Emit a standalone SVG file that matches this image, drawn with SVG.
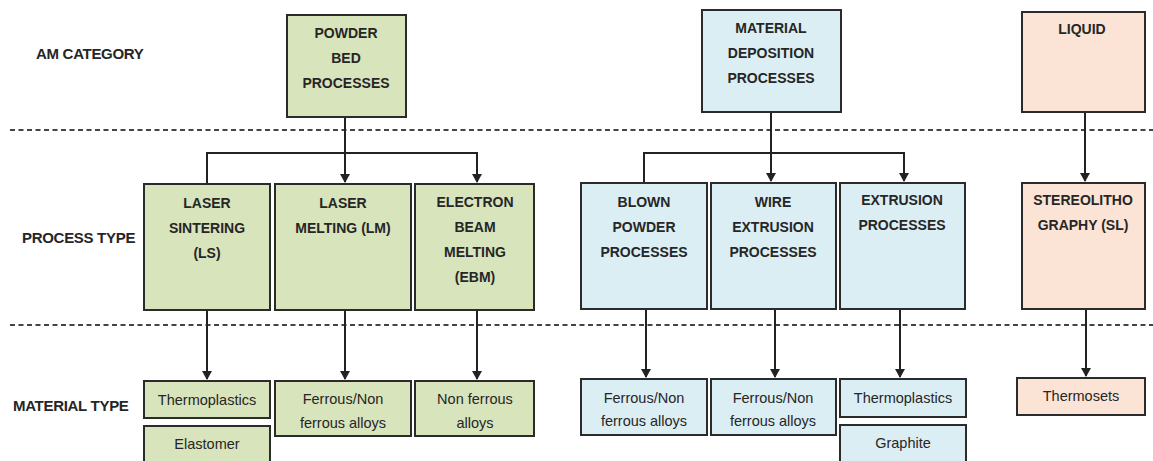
<svg xmlns="http://www.w3.org/2000/svg" width="1153" height="461" viewBox="0 0 1153 461">
<defs>
<marker id="arr" markerWidth="10" markerHeight="10" refX="8" refY="5" orient="auto" markerUnits="userSpaceOnUse">
<path d="M0,0 L9,5 L0,10 z" fill="#222"/>
</marker>
<style>
.g{fill:#d8e4bc;stroke:#2b2b2b;stroke-width:2}
.b{fill:#dbeef3;stroke:#2b2b2b;stroke-width:2}
.p{fill:#fbe4d5;stroke:#2b2b2b;stroke-width:2}
.t{font-family:"Liberation Sans",Arial,sans-serif;font-size:14px;font-weight:bold;fill:#262626;text-anchor:middle}
.m{font-family:"Liberation Sans",Arial,sans-serif;font-size:14.5px;fill:#262626;text-anchor:middle}
.l{font-family:"Liberation Sans",Arial,sans-serif;font-size:15px;font-weight:bold;fill:#262626;letter-spacing:-0.3px}
.d{stroke:#444;stroke-width:2.2;stroke-dasharray:5,3.5;fill:none}
.c{stroke:#222;stroke-width:2;fill:none}
</style>
</defs>
<rect width="1153" height="461" fill="#ffffff"/>

<g id="separators">
<line class="d" x1="10" y1="130" x2="1153" y2="130"/>
<line class="d" x1="10" y1="325" x2="1153" y2="325"/>
</g>

<g id="row-labels">
<text class="l" x="36" y="59">AM CATEGORY</text>
<text class="l" x="22" y="243">PROCESS TYPE</text>
<text class="l" x="13" y="411">MATERIAL TYPE</text>
</g>

<g id="connectors">
<path class="c" d="M345,117 V182" marker-end="url(#arr)"/>
<path class="c" d="M207,184 V153 H477 V182" marker-end="url(#arr)"/>
<path class="c" d="M771,112 V181" marker-end="url(#arr)"/>
<path class="c" d="M644,183 V153 H904 V181" marker-end="url(#arr)"/>
<path class="c" d="M1085,112 V181" marker-end="url(#arr)"/>
<path class="c" d="M207,310 V379" marker-end="url(#arr)"/>
<path class="c" d="M345,310 V379" marker-end="url(#arr)"/>
<path class="c" d="M477,310 V379" marker-end="url(#arr)"/>
<path class="c" d="M646,309 V377" marker-end="url(#arr)"/>
<path class="c" d="M775,309 V377" marker-end="url(#arr)"/>
<path class="c" d="M900,309 V377" marker-end="url(#arr)"/>
<path class="c" d="M1086,309 V376" marker-end="url(#arr)"/>
</g>

<g id="powder-bed">
<rect class="g" x="287" y="15" width="119" height="102"/>
<text class="t" x="346" y="38">POWDER</text>
<text class="t" x="346" y="63">BED</text>
<text class="t" x="346" y="88">PROCESSES</text>
</g>
<g id="material-deposition">
<rect class="b" x="702" y="10" width="139" height="102"/>
<text class="t" x="771" y="33">MATERIAL</text>
<text class="t" x="771" y="58">DEPOSITION</text>
<text class="t" x="771" y="83">PROCESSES</text>
</g>
<g id="liquid">
<rect class="p" x="1022" y="12" width="123" height="100"/>
<text class="t" x="1082" y="34">LIQUID</text>
</g>

<g id="laser-sintering">
<rect class="g" x="144" y="184" width="126" height="126"/>
<text class="t" x="207" y="208">LASER</text>
<text class="t" x="207" y="233">SINTERING</text>
<text class="t" x="207" y="258">(LS)</text>
</g>
<g id="laser-melting">
<rect class="g" x="275" y="184" width="136" height="126"/>
<text class="t" x="343" y="208">LASER</text>
<text class="t" x="343" y="233">MELTING (LM)</text>
</g>
<g id="ebm">
<rect class="g" x="415" y="184" width="119" height="126"/>
<text class="t" x="475" y="207">ELECTRON</text>
<text class="t" x="475" y="232">BEAM</text>
<text class="t" x="475" y="257">MELTING</text>
<text class="t" x="475" y="282">(EBM)</text>
</g>
<g id="blown-powder">
<rect class="b" x="581" y="183" width="126" height="126"/>
<text class="t" x="644" y="207">BLOWN</text>
<text class="t" x="644" y="232">POWDER</text>
<text class="t" x="644" y="257">PROCESSES</text>
</g>
<g id="wire-extrusion">
<rect class="b" x="711" y="183" width="125" height="126"/>
<text class="t" x="773" y="207">WIRE</text>
<text class="t" x="773" y="232">EXTRUSION</text>
<text class="t" x="773" y="257">PROCESSES</text>
</g>
<g id="extrusion">
<rect class="b" x="840" y="183" width="125" height="126"/>
<text class="t" x="902" y="205">EXTRUSION</text>
<text class="t" x="902" y="230">PROCESSES</text>
</g>
<g id="stereolithography">
<rect class="p" x="1022" y="183" width="123" height="126"/>
<text class="t" x="1083" y="205">STEREOLITHO</text>
<text class="t" x="1083" y="230">GRAPHY (SL)</text>
</g>

<g id="ls-thermoplastics">
<rect class="g" x="144" y="381" width="126" height="37"/>
<text class="m" x="207" y="405">Thermoplastics</text>
</g>
<g id="ls-elastomer">
<rect class="g" x="144" y="426" width="126" height="40"/>
<text class="m" x="207" y="449">Elastomer</text>
</g>
<g id="lm-material">
<rect class="g" x="275" y="381" width="136" height="55"/>
<text class="m" x="343" y="404">Ferrous/Non</text>
<text class="m" x="343" y="428">ferrous alloys</text>
</g>
<g id="ebm-material">
<rect class="g" x="415" y="381" width="119" height="55"/>
<text class="m" x="475" y="404">Non ferrous</text>
<text class="m" x="475" y="428">alloys</text>
</g>
<g id="blown-material">
<rect class="b" x="581" y="379" width="126" height="56"/>
<text class="m" x="644" y="403">Ferrous/Non</text>
<text class="m" x="644" y="426">ferrous alloys</text>
</g>
<g id="wire-material">
<rect class="b" x="711" y="379" width="125" height="56"/>
<text class="m" x="773" y="403">Ferrous/Non</text>
<text class="m" x="773" y="426">ferrous alloys</text>
</g>
<g id="ext-thermoplastics">
<rect class="b" x="840" y="379" width="126" height="38"/>
<text class="m" x="903" y="403">Thermoplastics</text>
</g>
<g id="ext-graphite">
<rect class="b" x="840" y="425" width="126" height="42"/>
<text class="m" x="903" y="448">Graphite</text>
</g>
<g id="thermosets">
<rect class="p" x="1017" y="378" width="128" height="37"/>
<text class="m" x="1081" y="401">Thermosets</text>
</g>
</svg>
